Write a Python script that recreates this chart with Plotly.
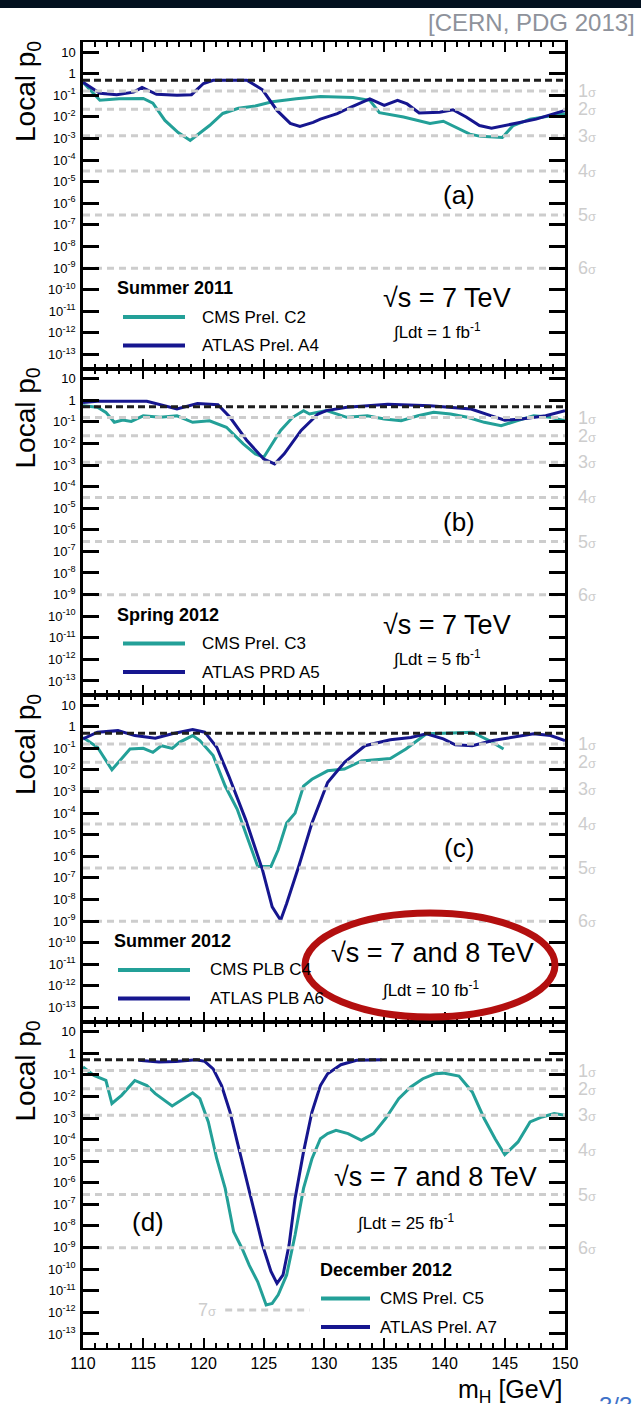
import math
import plotly.graph_objects as go

W, H = 641, 1404


def px(x):
    return x / W


def py(y):
    return 1 - y / H


# ---------------- data (m_H in GeV, local p0) ----------------
mass_cms_a = [110, 111.4, 113, 115, 115.8, 116.8, 117.9, 118.9, 120.5, 121.6, 122.9, 124.3, 125.7, 127.7, 129.7,
              132.4, 133.8, 134.6, 136.6, 138.8, 139.9, 142.1, 143, 144.8, 145.7, 147.1, 150]
p_cms_a = [0.40, 0.059, 0.07, 0.072, 0.043, 0.0069, 0.0019, 0.00081, 0.004, 0.0145, 0.025, 0.032, 0.05, 0.07, 0.089,
           0.079, 0.059, 0.0158, 0.01, 0.005, 0.0063, 0.0016, 0.00126, 0.00112, 0.004, 0.0079, 0.0141]
mass_atlas_a = [110, 111.4, 112.8, 114.2, 114.9, 116.1, 117.8, 119, 120, 120.8, 123.6, 124.9, 126.1, 127.2, 128, 129.1,
                129.7, 131.1, 132.2, 133.8, 135, 136.1, 136.9, 137.9, 139.6, 140.7, 141.8, 142.9, 143.9, 145.1,
                147.6, 150]
p_atlas_a = [0.40, 0.126, 0.107, 0.141, 0.234, 0.112, 0.1, 0.107, 0.355, 0.5, 0.5, 0.18, 0.02, 0.005, 0.0036, 0.0056,
             0.0079, 0.0141, 0.028, 0.068, 0.034, 0.059, 0.04, 0.0151, 0.0166, 0.0214, 0.01, 0.004, 0.003, 0.004,
             0.0079, 0.02]

mass_cms_b = [110, 111.2, 111.9, 112.6, 113.3, 114, 115, 116.4, 117.8, 119.1, 120.5, 121.9, 123.3, 124.3, 125, 125.7,
              126.4, 127.4, 128.3, 128.8, 130.2, 131.9, 133.6, 135, 136.4, 137.8, 139.1, 140.5, 141.9, 143.3, 144.7,
              146, 147.4, 148.8, 150]
p_cms_b = [0.56, 0.47, 0.275, 0.095, 0.12, 0.105, 0.19, 0.162, 0.19, 0.095, 0.112, 0.056, 0.0095, 0.0033, 0.0023,
           0.0095, 0.04, 0.162, 0.33, 0.23, 0.33, 0.162, 0.19, 0.135, 0.112, 0.19, 0.275, 0.23, 0.162, 0.095, 0.066,
           0.112, 0.19, 0.162, 0.112]
mass_atlas_b = [110, 111.2, 115.3, 117.8, 119.5, 121.2, 122.2, 123.6, 125, 125.9, 126.7, 128.1, 129.5, 130.2, 131.9,
                135.3, 138.8, 142.2, 143.9, 145, 146.4, 148.4, 150]
p_atlas_b = [0.79, 0.89, 0.89, 0.39, 0.71, 0.62, 0.162, 0.0135, 0.0019, 0.00112, 0.0033, 0.04, 0.23, 0.33, 0.47, 0.66,
             0.56, 0.39, 0.19, 0.12, 0.135, 0.19, 0.33]

mass_cms_c = [110, 111.2, 112.4, 113.2, 113.9, 115, 115.8, 116.5, 117.4, 118, 119.1, 119.7, 120.8, 121.8, 122.8, 123.5,
              124.5, 125.6, 126.2, 126.9, 127.6, 128.3, 129, 130.3, 131.7, 133.1, 135.5, 136.8, 138.5, 140.6, 142.3,
              143.7, 144.9]
p_cms_c = [0.32, 0.112, 0.0102, 0.032, 0.093, 0.1, 0.065, 0.132, 0.1, 0.19, 0.39, 0.23, 0.046, 0.0018, 1.5e-4, 1.2e-5,
           3.4e-7, 3.4e-7, 2e-6, 3.5e-5, 1.0e-4, 0.0018, 0.0037, 0.0091, 0.011, 0.026, 0.034, 0.093, 0.47, 0.52, 0.56,
           0.23, 0.093]
mass_atlas_c = [110, 111.2, 112.9, 114.3, 116, 117.4, 119.1, 120.1, 121.1, 122.1, 123.5, 124.9, 125.7, 126.4, 126.9,
                127.9, 129, 130.3, 131.7, 133.4, 135.5, 137.2, 138.5, 139.9, 140.9, 142.3, 144, 145.7, 147.4, 148.8,
                150]
p_atlas_c = [0.275, 0.56, 0.66, 0.39, 0.295, 0.47, 0.74, 0.56, 0.112, 0.0052, 5e-5, 2.3e-7, 4.6e-9, 1.1e-9, 6.6e-9,
             3.4e-7, 3.5e-5, 0.0026, 0.0224, 0.132, 0.25, 0.32, 0.47, 0.275, 0.145, 0.132, 0.23, 0.32, 0.47, 0.39,
             0.23]

mass_cms_d = [110, 110.9, 111.9, 112.4, 113.2, 114.3, 115.3, 116, 117.4, 118.4, 119.1, 119.7, 120.4, 121.1, 121.8,
              122.5, 123.2, 123.8, 124.5, 125.2, 125.7, 126.2, 126.9, 127.6, 128.3, 129, 129.7, 130.3, 131, 132,
              133.1, 134.1, 135.1, 136.2, 137.2, 138.2, 139.2, 139.9, 141.2, 142.3, 143.3, 144.2, 145, 146.1, 147.1,
              148.1, 149.1, 150]
p_cms_d = [0.23, 0.095, 0.055, 0.0047, 0.0112, 0.055, 0.032, 0.0135, 0.0036, 0.0079, 0.0148, 0.0079, 0.00066, 1.3e-5,
           5.5e-7, 5.4e-9, 9.1e-10, 1.5e-10, 2.6e-11, 2.2e-12, 2.6e-12, 6.5e-12, 5.4e-11, 3.8e-9, 5.5e-7, 1.3e-5,
           1.1e-4, 1.9e-4, 2.7e-4, 1.9e-4, 9.3e-5, 1.9e-4, 9.3e-4, 0.0079, 0.0275, 0.066, 0.112, 0.12, 0.087, 0.0162,
           9.3e-4, 1.1e-4, 2.0e-5, 7.8e-5, 6.6e-4, 0.00112, 0.0016, 0.00135]
mass_atlas_d = [114.6, 116.3, 117.7, 119.4, 120.1, 120.8, 121.5, 122.2, 122.8, 123.5, 124.2, 124.9, 125.6, 126.1,
                126.6, 127.1, 127.6, 128.3, 129, 129.7, 130.3, 131.4, 132.7, 134.8]
p_atlas_d = [0.47, 0.39, 0.42, 0.5, 0.42, 0.19, 0.032, 0.0019, 7.8e-5, 2.2e-6, 4.6e-8, 1.3e-9, 7.8e-11, 2.2e-11,
             5.4e-11, 1.3e-9, 1.9e-7, 2.7e-5, 0.0019, 0.032, 0.112, 0.295, 0.47, 0.5]

panel_tags = ["(a)", "(b)", "(c)", "(d)"]
periods = ["Summer 2011", "Spring 2012", "Summer 2012", "December 2012"]
cms_names = ["CMS Prel. C2", "CMS Prel. C3", "CMS PLB C4", "CMS Prel. C5"]
atlas_names = ["ATLAS Prel. A4", "ATLAS PRD A5", "ATLAS PLB A6", "ATLAS Prel. A7"]
energies = ["√s = 7 TeV", "√s = 7 TeV", "√s = 7 and 8 TeV", "√s = 7 and 8 TeV"]
lumis = ["1", "5", "10", "25"]

sigma_labels = ["1", "2", "3", "4", "5", "6"]
sigma_p = [0.1587, 0.02275, 1.35e-3, 3.17e-5, 2.87e-7, 9.87e-10]
p_half = 0.5
p_7sigma = 1.28e-12
mass_7sigma = [121.8, 128.8]

x_range = [110, 150]
x_tickvals = [110, 115, 120, 125, 130, 135, 140, 145, 150]
y_exps = list(range(1, -14, -1))

cms_mass = [mass_cms_a, mass_cms_b, mass_cms_c, mass_cms_d]
cms_p = [p_cms_a, p_cms_b, p_cms_c, p_cms_d]
atlas_mass = [mass_atlas_a, mass_atlas_b, mass_atlas_c, mass_atlas_d]
atlas_p = [p_atlas_a, p_atlas_b, p_atlas_c, p_atlas_d]

# ---------------- style ----------------
TEAL = "#23a098"
NAVY = "#16168f"
GREY = "#cdcdcd"
FONT = "Liberation Sans, Arial, sans-serif"
tops = [42, 368.5, 695, 1021.5]
PH = 326.5
XL, XR = 83, 565
ylog = [-13.65, 1.47]

fig = go.Figure()
layout = dict(template="none", width=W, height=H, margin=dict(l=0, r=0, t=0, b=0, autoexpand=False),
              paper_bgcolor="white", plot_bgcolor="white", showlegend=False,
              font=dict(family=FONT, color="black"))

tickvals_y = [10.0 ** e for e in y_exps]
ticktext_y = [("10" if e == 1 else "1" if e == 0 else "10<sup>%d</sup>" % e) for e in y_exps]
minor_y = [m * 10.0 ** e for e in range(-14, 2) for m in range(2, 10)]
minor_y = [v for v in minor_y if ylog[0] < math.log10(v) < ylog[1]]

annotations = []
shapes = []


def note(x, y, text, size, xanchor="center", yanchor="middle", color="black", **kw):
    d = dict(x=x, y=y, xref=kw.pop("xref", "paper"), yref=kw.pop("yref", "paper"), showarrow=False,
             xanchor=xanchor, yanchor=yanchor, text=text, font=dict(size=size, family=FONT, color=color))
    d.update(kw)
    annotations.append(d)


for i in range(4):
    n = i + 1
    xa = "x" if n == 1 else "x%d" % n
    ya = "y" if n == 1 else "y%d" % n
    top = tops[i]
    bot = top + PH
    layout["xaxis" if n == 1 else "xaxis%d" % n] = dict(
        domain=[px(XL), px(XR)], anchor=ya, range=x_range, showgrid=False, zeroline=False, automargin=False,
        showline=True, linecolor="black", linewidth=2, mirror="allticks", ticks="inside",
        tickvals=x_tickvals, ticklen=10, tickwidth=2, tickcolor="black",
        minor=dict(dtick=1, tick0=110, ticks="inside", ticklen=5, tickwidth=1.6, tickcolor="black",
                   showgrid=False),
        showticklabels=(n == 4), tickfont=dict(size=16, family=FONT, color="black"))
    layout["yaxis" if n == 1 else "yaxis%d" % n] = dict(
        domain=[py(bot), py(top)], anchor=xa, type="log", range=ylog, showgrid=False, zeroline=False,
        automargin=False,
        showline=True, linecolor="black", linewidth=2.5, mirror="allticks", ticks="inside",
        tickmode="array", tickvals=tickvals_y, ticktext=ticktext_y, ticklen=16, tickwidth=2.5,
        tickcolor="black",
        tickfont=dict(size=13, family=FONT, color="black"), ticklabelstandoff=2)
    # overlay axis carrying the minor log ticks (left and right, inside)
    layout["yaxis%d" % (n + 4)] = dict(
        domain=[py(bot), py(top)], anchor=xa, overlaying=ya, type="log", range=ylog, showgrid=False,
        zeroline=False, automargin=False, showline=True, linecolor="black", linewidth=2.5, mirror="allticks",
        ticks="inside", tickmode="array", tickvals=minor_y, ticklen=8, tickwidth=2, tickcolor="black",
        showticklabels=False)

    # curves
    fig.add_trace(go.Scatter(x=cms_mass[i], y=cms_p[i], mode="lines", xaxis=xa, yaxis=ya,
                             line=dict(color=TEAL, width=3)))
    fig.add_trace(go.Scatter(x=atlas_mass[i], y=atlas_p[i], mode="lines", xaxis=xa, yaxis=ya,
                             line=dict(color=NAVY, width=3)))
    # reference lines drawn over the curves
    for sp, lab in zip(sigma_p, sigma_labels):
        fig.add_trace(go.Scatter(x=x_range, y=[sp, sp], mode="lines", xaxis=xa, yaxis=ya,
                                 line=dict(color=GREY, width=3, dash="7px,5px")))
        note(px(576), math.log10(sp), lab + "<span style='font-size:13px'>σ</span>", 18,
             xanchor="left", color=GREY, yref=ya)
    fig.add_trace(go.Scatter(x=x_range, y=[p_half, p_half], mode="lines", xaxis=xa, yaxis=ya,
                             line=dict(color="#1e1e1e", width=3, dash="7px,4px")))
    if n == 4:
        fig.add_trace(go.Scatter(x=mass_7sigma, y=[p_7sigma, p_7sigma], mode="lines", xaxis=xa, yaxis=ya,
                                 line=dict(color=GREY, width=3, dash="7px,5px")))
        note(mass_7sigma[0] - 0.6, math.log10(p_7sigma), "7<span style='font-size:13px'>σ</span>", 18,
             xanchor="right", color=GREY, xref=xa, yref=ya)

    # y title
    note(px(27), py(top + 50), "Local p<sub>0</sub>", 28, textangle=-90)

    # panel texts
    if n < 4:
        tag_xy = (459, top + 153)
        leg_x0 = 115 if n < 3 else 112
        line_x = (123, 185) if n < 3 else (118, 190)
        txt_x = 200 if n < 3 else 208
        leg_y = top + 246
        e_xy = (447, top + 256) if n < 3 else (432, top + 258)
        l_xy = (437, top + 289) if n < 3 else (430, top + 294)
    else:
        tag_xy = (148, top + 200)
        leg_x0 = 318
        line_x = (321, 370)
        txt_x = 378
        leg_y = top + 248
        e_xy = (435, top + 155)
        l_xy = (405, top + 200)
    note(px(tag_xy[0]), py(tag_xy[1]), panel_tags[i], 26)
    note(px(leg_x0), py(leg_y), "<b>%s</b>" % periods[i], 18, xanchor="left")
    for k, (nm, col) in enumerate([(cms_names[i], TEAL), (atlas_names[i], NAVY)]):
        yy = leg_y + 29 + 28.5 * k
        shapes.append(dict(type="line", xref="paper", yref="paper", x0=px(line_x[0]), x1=px(line_x[1]),
                           y0=py(yy), y1=py(yy), line=dict(color=col, width=4)))
        note(px(txt_x), py(yy), nm, 17, xanchor="left")
    note(px(e_xy[0]), py(e_xy[1]), energies[i], 27)
    note(px(l_xy[0]), py(l_xy[1]), "∫Ldt = %s fb<sup>-1</sup>" % lumis[i], 17)

# x title
note(px(564), py(1373), "m<sub>H</sub> [GeV]", 25, xanchor="right", yanchor="top")
# header
shapes.append(dict(type="rect", xref="paper", yref="paper", x0=0, x1=1, y0=py(8), y1=1,
                   fillcolor="#03111f", line=dict(width=0), layer="above"))
note(px(637), py(23), "[CERN, PDG 2013]", 24, xanchor="right", color="#8e929b")
note(px(597), py(1405), "3/3", 24, xanchor="left", color="#3f72c8")
# red highlight ellipse
shapes.append(dict(type="circle", xref="paper", yref="paper", x0=px(305), x1=px(555), y0=py(1017), y1=py(913),
                   line=dict(color="#b30f0f", width=7), layer="above"))

layout["annotations"] = annotations
layout["shapes"] = shapes
fig.update_layout(**layout)
fig.write_html("out.html")
